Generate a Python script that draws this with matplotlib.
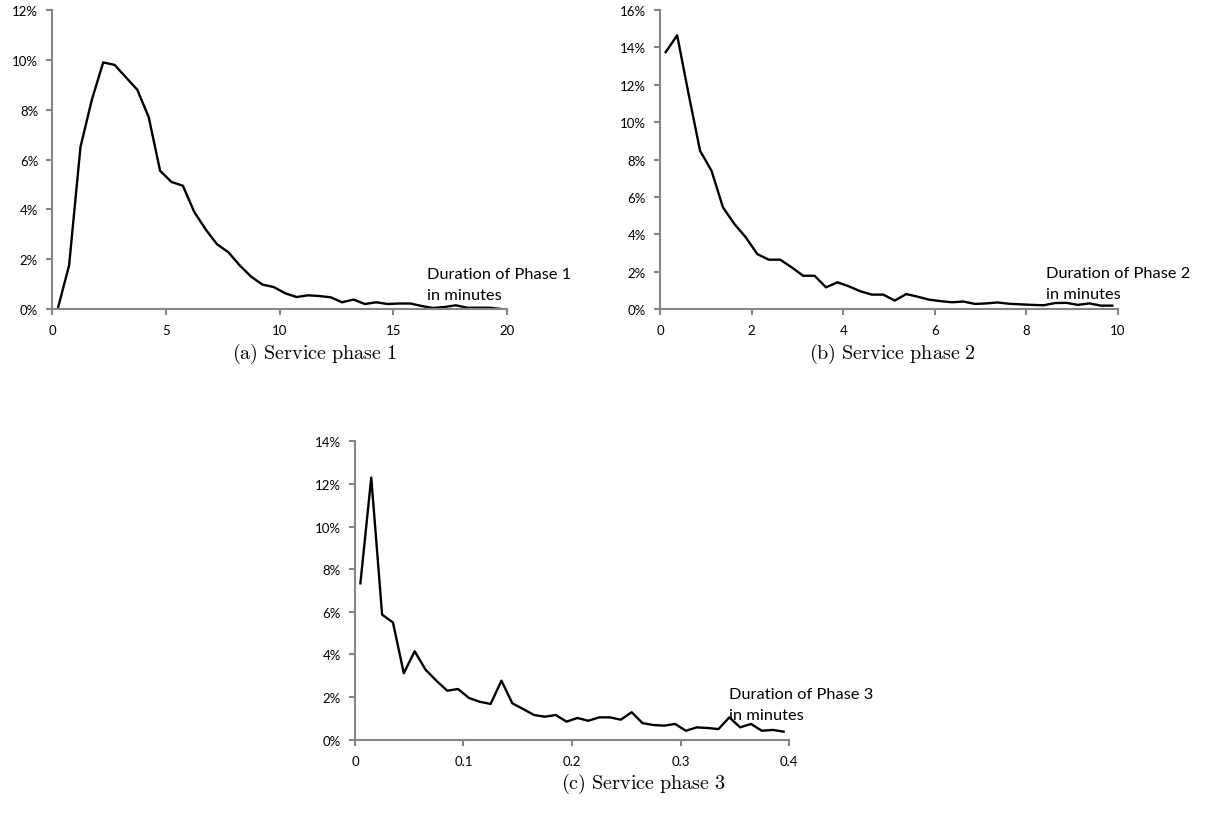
import matplotlib
matplotlib.use('Agg')
import matplotlib.pyplot as plt
from matplotlib.ticker import FuncFormatter

plt.rcParams['font.family'] = ['Lato', 'DejaVu Sans']
plt.rcParams['mathtext.fontset'] = 'cm'

# Phase 1: bin centres (minutes) and share of calls (%)
phase1_minutes = [0.25, 0.75, 1.25, 1.75, 2.25, 2.75, 3.25, 3.75, 4.25, 4.75,
                  5.25, 5.75, 6.25, 6.75, 7.25, 7.75, 8.25, 8.75, 9.25, 9.75,
                  10.25, 10.75, 11.25, 11.75, 12.25, 12.75, 13.25, 13.75, 14.25, 14.75,
                  15.25, 15.75, 16.25, 16.75, 17.25, 17.75, 18.25, 18.75, 19.25, 19.75]
phase1_share = [0.0, 1.75, 6.5, 8.4, 9.9, 9.8, 9.3, 8.8, 7.7, 5.55,
                5.1, 4.95, 3.9, 3.2, 2.6, 2.28, 1.75, 1.3, 0.98, 0.88,
                0.63, 0.48, 0.55, 0.52, 0.47, 0.27, 0.38, 0.2, 0.27, 0.2,
                0.22, 0.22, 0.12, 0.04, 0.08, 0.15, 0.05, 0.05, 0.05, 0.0]

# Phase 2
phase2_minutes = [0.125, 0.375, 0.625, 0.875, 1.125, 1.375, 1.625, 1.875, 2.125, 2.375,
                  2.625, 2.875, 3.125, 3.375, 3.625, 3.875, 4.125, 4.375, 4.625, 4.875,
                  5.125, 5.375, 5.625, 5.875, 6.125, 6.375, 6.625, 6.875, 7.125, 7.375,
                  7.625, 7.875, 8.125, 8.375, 8.625, 8.875, 9.125, 9.375, 9.625, 9.875]
phase2_share = [13.75, 14.65, 11.5, 8.47, 7.4, 5.44, 4.55, 3.83, 2.94, 2.64,
                2.64, 2.23, 1.78, 1.78, 1.16, 1.43, 1.21, 0.95, 0.77, 0.77,
                0.45, 0.8, 0.66, 0.5, 0.42, 0.36, 0.4, 0.27, 0.3, 0.35,
                0.28, 0.25, 0.22, 0.2, 0.32, 0.33, 0.22, 0.3, 0.18, 0.18]

# Phase 3
phase3_minutes = [0.005, 0.015, 0.025, 0.035, 0.045, 0.055, 0.065, 0.075, 0.085, 0.095,
                  0.105, 0.115, 0.125, 0.135, 0.145, 0.155, 0.165, 0.175, 0.185, 0.195,
                  0.205, 0.215, 0.225, 0.235, 0.245, 0.255, 0.265, 0.275, 0.285, 0.295,
                  0.305, 0.315, 0.325, 0.335, 0.345, 0.355, 0.365, 0.375, 0.385, 0.395]
phase3_share = [7.34, 12.3, 5.87, 5.5, 3.12, 4.15, 3.29, 2.77, 2.3, 2.38,
                1.96, 1.78, 1.68, 2.77, 1.71, 1.44, 1.16, 1.08, 1.16, 0.85,
                1.02, 0.89, 1.05, 1.05, 0.94, 1.29, 0.78, 0.69, 0.66, 0.74,
                0.42, 0.58, 0.55, 0.5, 1.05, 0.58, 0.74, 0.42, 0.46, 0.38]

phase1_xticks = [0, 5, 10, 15, 20]
phase2_xticks = [0, 2, 4, 6, 8, 10]
phase3_xticks = [0, 0.1, 0.2, 0.3, 0.4]
phase3_xlabels = ['0', '0.1', '0.2', '0.3', '0.4']

axis_grey = '#868686'

fig = plt.figure(figsize=(12.07, 8.28), dpi=100)


def style_axes(ax, xlim, ylim, ystep, xticks, xlabels=None):
    ax.set_xlim(*xlim)
    ax.set_ylim(*ylim)
    ax.set_xticks(xticks)
    if xlabels is not None:
        ax.set_xticklabels(xlabels)
    ax.set_yticks(range(0, ylim[1] + 1, ystep))
    ax.yaxis.set_major_formatter(FuncFormatter(lambda v, p: '%d%%' % v))
    for side in ['top', 'right']:
        ax.spines[side].set_visible(False)
    for side in ['left', 'bottom']:
        ax.spines[side].set_color(axis_grey)
        ax.spines[side].set_linewidth(1.5)
    ax.tick_params(axis='both', colors=axis_grey, width=1.5, length=4,
                   labelcolor='black', labelsize=9.5)
    ax.tick_params(axis='x', pad=7)
    ax.tick_params(axis='y', pad=6)


def caption(x, y, s):
    fig.text(x, y, s, ha='center', va='center', fontsize=14.5)


# (a)
ax1 = fig.add_axes([0.0431, 0.6256, 0.377, 0.361])
ax1.plot(phase1_minutes, phase1_share, color='black', lw=1.7)
style_axes(ax1, (0, 20), (0, 12), 2, phase1_xticks)
ax1.text(16.5, 0.3, 'Duration of Phase 1\nin minutes', fontsize=11.8,
         ha='left', va='bottom', linespacing=1.6)

# (b)
ax2 = fig.add_axes([0.5468, 0.6256, 0.3795, 0.361])
ax2.plot(phase2_minutes, phase2_share, color='black', lw=1.7)
style_axes(ax2, (0, 10), (0, 16), 2, phase2_xticks)
ax2.text(8.42, 0.45, 'Duration of Phase 2\nin minutes', fontsize=11.8,
         ha='left', va='bottom', linespacing=1.6)

# (c)
ax3 = fig.add_axes([0.2941, 0.1054, 0.3596, 0.3604])
ax3.plot(phase3_minutes, phase3_share, color='black', lw=1.7)
style_axes(ax3, (0, 0.4), (0, 14), 2, phase3_xticks, phase3_xlabels)
ax3.text(0.345, 0.85, 'Duration of Phase 3\nin minutes', fontsize=11.8,
         ha='left', va='bottom', linespacing=1.6)

caption(315 / 1207, 1 - 354 / 828, r'$\mathrm{(a)\ Service\ phase\ 1}$')
caption(892 / 1207, 1 - 354 / 828, r'$\mathrm{(b)\ Service\ phase\ 2}$')
caption(643 / 1207, 1 - 784 / 828, r'$\mathrm{(c)\ Service\ phase\ 3}$')

fig.savefig('out.png', dpi=100)
